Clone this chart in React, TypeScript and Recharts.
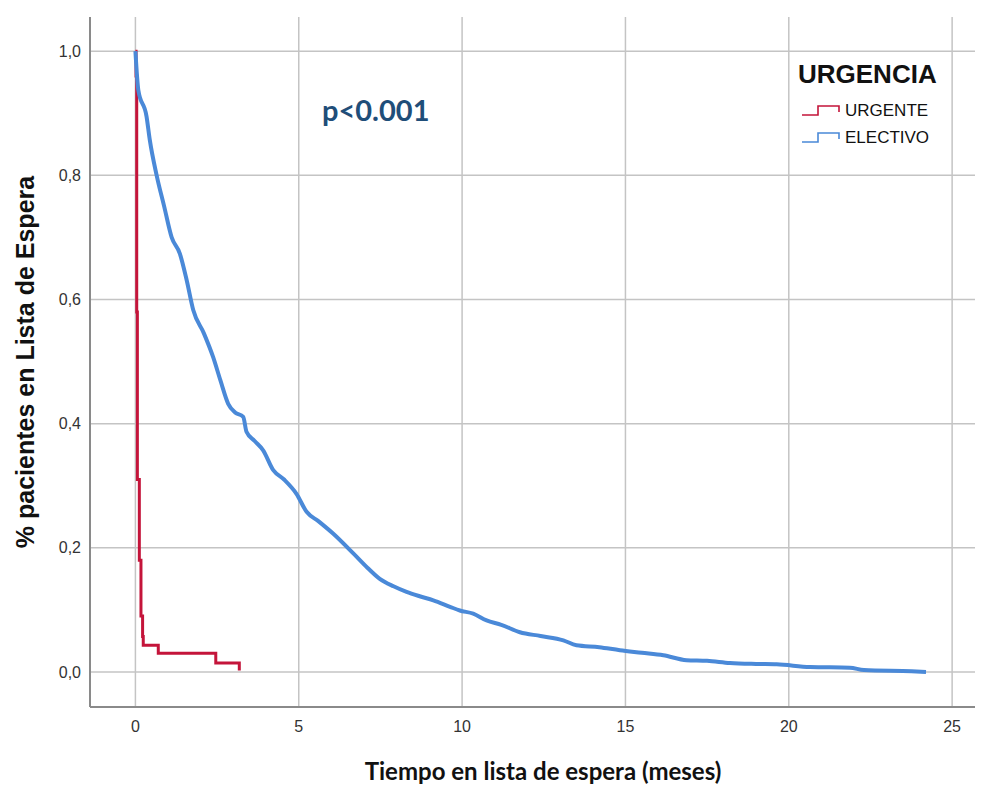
import React from 'react';
import { ComposedChart, Line, XAxis, YAxis, CartesianGrid } from 'recharts';

// Tiempo (meses) y proporción en lista de espera
const electivoTiempo = [
  0, 0.09, 0.34, 0.44, 0.65, 0.88, 1.11, 1.36, 1.57, 1.77, 2.1, 2.38, 2.6, 2.84, 3.05, 3.3, 3.4,
  3.65, 3.91, 4.22, 4.55, 4.93, 5.24, 5.6, 6.05, 6.67, 7.1, 7.48, 7.9, 8.3, 8.7, 9.12, 9.63, 9.93,
  10.34, 10.75, 11.2, 11.77, 12.4, 13.1, 13.5, 14.2, 14.83, 15.5, 16.16, 16.87, 17.5, 18.2, 19.0,
  19.63, 20.65, 21.87, 22.3, 23.76, 24.2,
];
const electivoProp = [
  1.0, 0.937, 0.895, 0.857, 0.8, 0.75, 0.7, 0.674, 0.631, 0.583, 0.545, 0.507, 0.47, 0.432, 0.418,
  0.411, 0.387, 0.372, 0.357, 0.325, 0.31, 0.287, 0.258, 0.243, 0.223, 0.191, 0.168, 0.15, 0.138,
  0.129, 0.122, 0.1155, 0.105, 0.099, 0.094, 0.083, 0.076, 0.064, 0.058, 0.051, 0.043, 0.04, 0.035,
  0.031, 0.027, 0.019, 0.018, 0.0145, 0.013, 0.0124, 0.008, 0.007, 0.003, 0.001, 0.0,
];

const urgenteTiempo = [0, 0.02, 0.04, 0.06, 0.12, 0.17, 0.22, 0.24, 0.7, 2.46, 3.18];
const urgenteProp = [1.0, 0.96, 0.58, 0.31, 0.18, 0.09, 0.057, 0.043, 0.03, 0.0145, 0.0025];

const xTicks = [0, 5, 10, 15, 20, 25];
const yTicks = [0, 0.2, 0.4, 0.6, 0.8, 1.0];
const xDomain = [-1.39, 25.7];
const yDomain = [-0.0564, 1.055];

const electivo = electivoTiempo.map((t, i) => ({ t, s: electivoProp[i] }));
const urgente = urgenteTiempo.map((t, i) => ({ t, s: urgenteProp[i] }));

const RED = '#c4143a';
const BLUE = '#4a89d8';

// grid only at the ticks (no frame lines at the plot edges)
const hGrid = ({ offset }: any) =>
  yTicks.map((v) => offset.top + ((yDomain[1] - v) / (yDomain[1] - yDomain[0])) * offset.height);
const vGrid = ({ offset }: any) =>
  xTicks.map((v) => offset.left + ((v - xDomain[0]) / (xDomain[1] - xDomain[0])) * offset.width);

function StepIcon({ color }: { color: string }) {
  return (
    <svg width={40} height={14} style={{ display: 'block' }}>
      <polyline points="0,11 16,11 16,2 37,2 37,8" fill="none" stroke={color} strokeWidth={1.6} />
    </svg>
  );
}

export default function App() {
  return (
    <div style={{ position: 'absolute', left: 0, top: 0, width: 990, height: 785, background: '#fff' }}>
      <ComposedChart
        width={990}
        height={785}
        margin={{ top: 17, right: 15, bottom: 48, left: 30 }}
      >
        <CartesianGrid
          stroke="#c4c4c4"
          strokeWidth={1.5}
          horizontalCoordinatesGenerator={hGrid}
          verticalCoordinatesGenerator={vGrid}
        />
        <XAxis
          type="number"
          dataKey="t"
          domain={xDomain}
          ticks={xTicks}
          allowDataOverflow
          height={30}
          tickLine={false}
          axisLine={{ stroke: '#8a8a8a', strokeWidth: 2 }}
          tick={{ fill: '#333', fontSize: 16, fontFamily: 'Liberation Sans, Arial' }}
          tickMargin={8}
        />
        <YAxis
          type="number"
          dataKey="s"
          domain={yDomain}
          ticks={yTicks}
          allowDataOverflow
          width={60}
          tickLine={false}
          axisLine={{ stroke: '#8a8a8a', strokeWidth: 2 }}
          tick={{ fill: '#333', fontSize: 16, fontFamily: 'Liberation Sans, Arial' }}
          tickMargin={3}
          tickFormatter={(v: number) => v.toFixed(1).replace('.', ',')}
        />
        <Line
          data={urgente}
          dataKey="s"
          type="stepAfter"
          stroke={RED}
          strokeWidth={3}
          dot={false}
          isAnimationActive={false}
        />
        <Line
          data={electivo}
          dataKey="s"
          type="monotone"
          stroke={BLUE}
          strokeWidth={4}
          dot={false}
          isAnimationActive={false}
        />
      </ComposedChart>

      <div
        style={{
          position: 'absolute', left: 322, top: 93, fontFamily: 'Lato', fontWeight: 700,
          fontSize: 29, color: '#1f4e79', lineHeight: '34px',
        }}
      >
        p&lt;0.001
      </div>

      <div style={{ position: 'absolute', left: 798, top: 59, fontFamily: 'Liberation Sans, Arial', color: '#111' }}>
        <div style={{ fontSize: 26, fontWeight: 700, lineHeight: '30px' }}>URGENCIA</div>
        <div style={{ display: 'flex', alignItems: 'center', marginTop: 12, marginLeft: 4, height: 20 }}>
          <StepIcon color={RED} />
          <span style={{ fontSize: 17, marginLeft: 3 }}>URGENTE</span>
        </div>
        <div style={{ display: 'flex', alignItems: 'center', marginTop: 7, marginLeft: 4, height: 20 }}>
          <StepIcon color={BLUE} />
          <span style={{ fontSize: 17, marginLeft: 3 }}>ELECTIVO</span>
        </div>
      </div>

      <div
        style={{
          position: 'absolute', left: 0, width: 1086, top: 757, textAlign: 'center',
          fontFamily: 'Lato', fontWeight: 700, fontSize: 24, color: '#111', lineHeight: '28px',
        }}
      >
        Tiempo en lista de espera (meses)
      </div>

      <div
        style={{
          position: 'absolute', left: 25, top: 362, width: 0, height: 0,
        }}
      >
        <div
          style={{
            position: 'absolute', left: 0, top: 0, transform: 'translate(-50%, -50%) rotate(-90deg)',
            whiteSpace: 'nowrap', fontFamily: 'Liberation Sans, Arial', fontWeight: 700, fontSize: 25,
            color: '#111',
          }}
        >
          % pacientes en Lista de Espera
        </div>
      </div>
    </div>
  );
}
